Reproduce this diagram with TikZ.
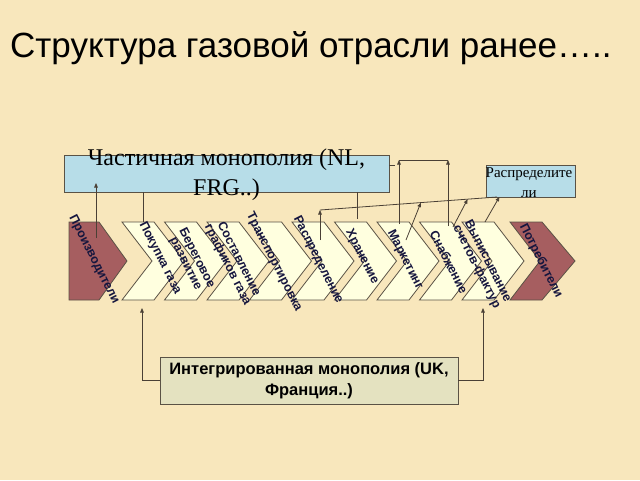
\documentclass[tikz,border=0pt]{standalone}
\usepackage{fontspec}
\setmainfont{Liberation Serif}
\setsansfont{Liberation Sans}
\usetikzlibrary{arrows.meta,calc}
\definecolor{bg}{HTML}{F8E7BC}
\definecolor{bluebox}{HTML}{B7DDE8}
\definecolor{chev}{HTML}{FFFFDF}
\definecolor{brownc}{HTML}{A65E60}
\definecolor{intbox}{HTML}{E4E2C0}
\definecolor{edgec}{HTML}{5A5245}
\definecolor{linec}{HTML}{4A4035}
\definecolor{chevtext}{HTML}{16163E}
\newcommand\chevshape[3]{%
  \filldraw[fill=#2, draw=edgec, line width=0.8pt, line join=miter]
    (#1.north west) -- ($(#1.north west)+(32,0)$) -- (#1.east)
    -- ($(#1.south west)+(32,0)$) -- (#1.south west) -- ($(#1.west)+(#3,0)$) -- cycle;}
\begin{document}
\begin{tikzpicture}[x=1pt,y=-1pt,
  cbox/.style={minimum width=62pt, minimum height=78pt, inner sep=0pt, outer sep=0pt, anchor=north west},
  ctext/.style={rotate=-63, font=\sffamily\bfseries\fontsize{12.5}{12.5}\selectfont, text=chevtext, align=center, inner sep=0pt},
  conn/.style={draw=linec, line width=0.8pt},
  arr/.style={conn, -{Triangle[length=4.5pt,width=3.6pt]}},
  boxedge/.style={draw=edgec, line width=0.8pt, inner sep=0pt, outer sep=0pt, anchor=north west}]
\fill[bg] (0,0) rectangle (640,480);
\useasboundingbox (0,0) rectangle (640,480);

% title
\node[anchor=base west, inner sep=0pt, font=\sffamily\fontsize{35}{40}\selectfont] (title) at (10,57) {Структура газовой отрасли ранее…..};

% boxes
\node[boxedge, fill=bluebox, minimum width=325pt, minimum height=37pt] (pm) at (64,155) {};
\node[boxedge, fill=bluebox, minimum width=89pt, minimum height=32pt] (ds) at (486,165) {};
\node[boxedge, fill=intbox, minimum width=298pt, minimum height=47pt] (im) at (160,357) {};

% producer and consumer
\node[cbox, minimum width=58pt] (prod) at (69,222) {};
\filldraw[fill=brownc, draw=edgec, line width=0.8pt] (prod.north west) -- ($(prod.north west)+(30,0)$) -- (prod.east) -- ($(prod.south west)+(30,0)$) -- (prod.south west) -- cycle;
\node[cbox, minimum width=65pt] (cons) at (510,222) {};
\chevshape{cons}{brownc}{30}

% chevrons
\foreach \i/\L in {1/122,2/164.5,3/207,4/249.5,5/292,6/334.5,7/377,8/419.5,9/462}{
  \node[cbox] (c\i) at (\L,222) {};
  \chevshape{c\i}{chev}{30}
}

% texts
\node[anchor=north, inner sep=0pt, align=center, font=\fontsize{24}{30}\selectfont] (pmt) at (226.5,149) {Частичная монополия (NL,\\FRG..)};
\node[inner sep=0pt, align=center, font=\fontsize{15}{20}\selectfont] (dst) at (529,183) {Распределите\\ли};
\node[inner sep=0pt, align=center, font=\sffamily\bfseries\fontsize{16.5}{21}\selectfont] (imt) at (im.center) {Интегрированная монополия (UK,\\Франция..)};

\node[ctext] (t0) at (94,260) {Производители};
\node[ctext] (t1) at (160,258) {Покупка газа};
\node[ctext] (t2) at (191,261) {Береговое\\развитие};
\node[ctext] (t3) at (233,262) {Составление\\графиков газа};
\node[ctext] (t4) at (274,262) {Транспортировка};
\node[ctext] (t5) at (318,260) {Распределение};
\node[ctext] (t6) at (362,257) {Хранение};
\node[ctext] (t7) at (405,260) {Маркетинг};
\node[ctext] (t8) at (449,262) {Снабжение};
\node[ctext] (t9) at (482,264) {Выписывание\\счетов-фактур};
\node[ctext] (t10) at (541,261) {Потребители};

% connectors to partial monopoly
\draw[arr] (96,238) -- (96,183);
\draw[conn] (143,0 |- pm.south) -- (143,0 |- c1.north);
\draw[conn] (357,0 |- pm.south) -- (357,219);
\coordinate (ml) at (399,160);
\coordinate (mr) at (448,160);
\draw[conn] (pm.east |- 0,165) -- (395,165);
\draw[conn] (ml) -- (mr);
\draw[arr] (399,224) -- (ml);
\draw[arr] (448,226) -- (mr);

% connectors to distributors
\coordinate (sl) at (320,210);
\coordinate (sr) at ($(ds.south west)+(11,0)$);
\draw[conn] (sl) -- (sr);
\draw[arr] (320,240) -- (sl);
\draw[arr] (406,240) -- ($(sl)!(406,0)!(sr)$);
\draw[arr] (453,227) -- ($(sl)!(453,0)!(sr)$);
\draw[arr] (485,222) -- ($(sl)!(485,0)!(sr)$);

% integrated monopoly connectors
\draw[arr] (im.west) -- (142,0 |- im.west) -- (142,308);
\draw[arr] (im.east) -- (483,0 |- im.east) -- (483,308);
\end{tikzpicture}
\end{document}
